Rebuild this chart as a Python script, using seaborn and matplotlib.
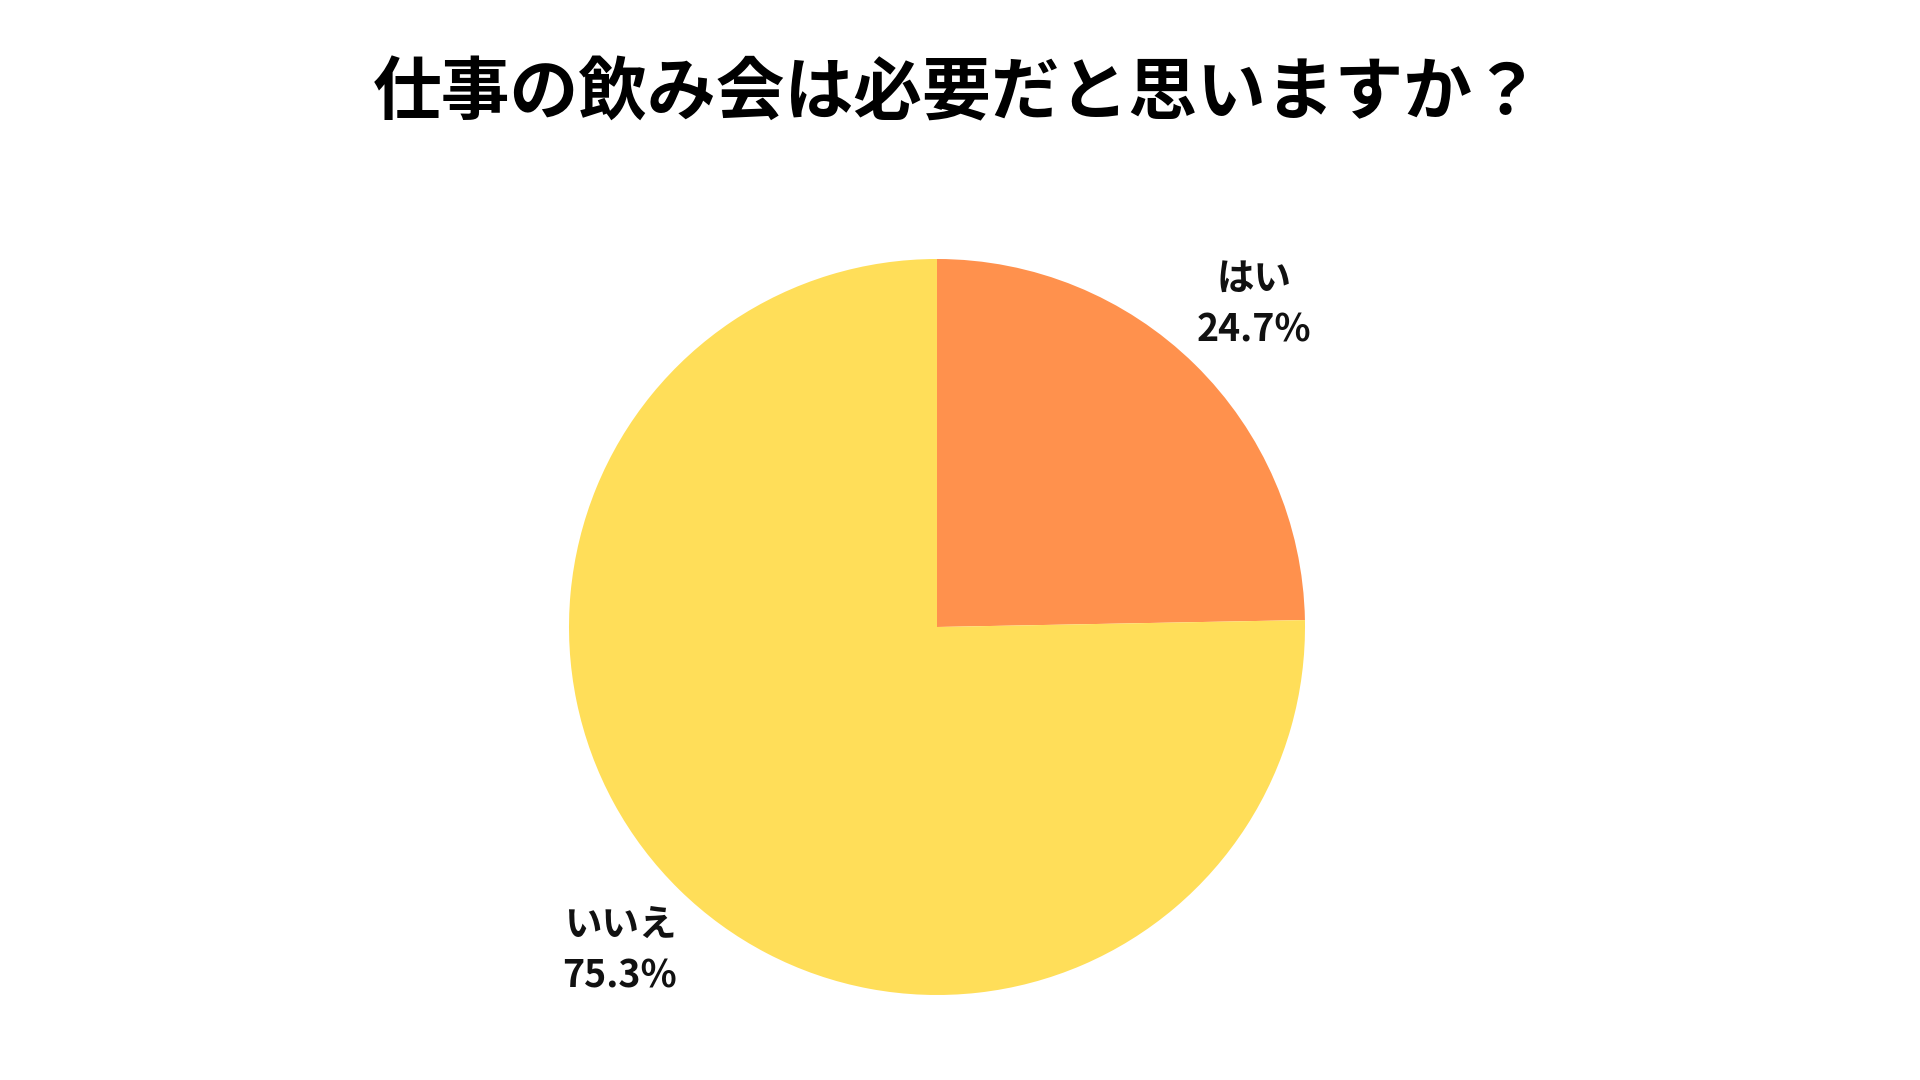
import matplotlib
matplotlib.use("Agg")
import matplotlib.pyplot as plt
import seaborn as sns

# --- data ---
answers = ["はい", "いいえ"]
shares = [24.7, 75.3]
colors = ["#FF914D", "#FFDE59"]
title = "仕事の飲み会は必要だと思いますか？"

sns.set_theme(style="white")
plt.rcParams["font.family"] = ["Noto Sans CJK JP", "DejaVu Sans"]

fig = plt.figure(figsize=(19.2, 10.8), dpi=100)
fig.patch.set_facecolor("white")

# pie centre ~ (937, 627) px from top-left, radius ~368 px
R = 368
lim = 1.2
cx, cy = 937, 1080 - 627
side = 2 * lim * R
ax = fig.add_axes([(cx - side / 2) / 1920, (cy - side / 2) / 1080, side / 1920, side / 1080])

labels = [f"{a}\n{s}%" for a, s in zip(answers, shares)]
wedges, texts = ax.pie(
    shares,
    labels=labels,
    colors=colors,
    startangle=90,
    counterclock=False,
    labeldistance=1.23,
    wedgeprops={"linewidth": 0},
    textprops={"fontsize": 27, "fontweight": "bold", "color": "#111111",
               "ha": "center", "va": "center", "linespacing": 1.4},
)
for t in texts:
    t.set_horizontalalignment("center")

ax.set_xlim(-lim, lim)
ax.set_ylim(-lim, lim)
ax.set_aspect("equal")
ax.axis("off")

# title
fig.text(957 / 1920, 1 - 94 / 1080, title, ha="center", va="center",
         fontsize=49.5, fontweight="bold", color="#000000")

fig.savefig("out.png", dpi=100, facecolor="white")
